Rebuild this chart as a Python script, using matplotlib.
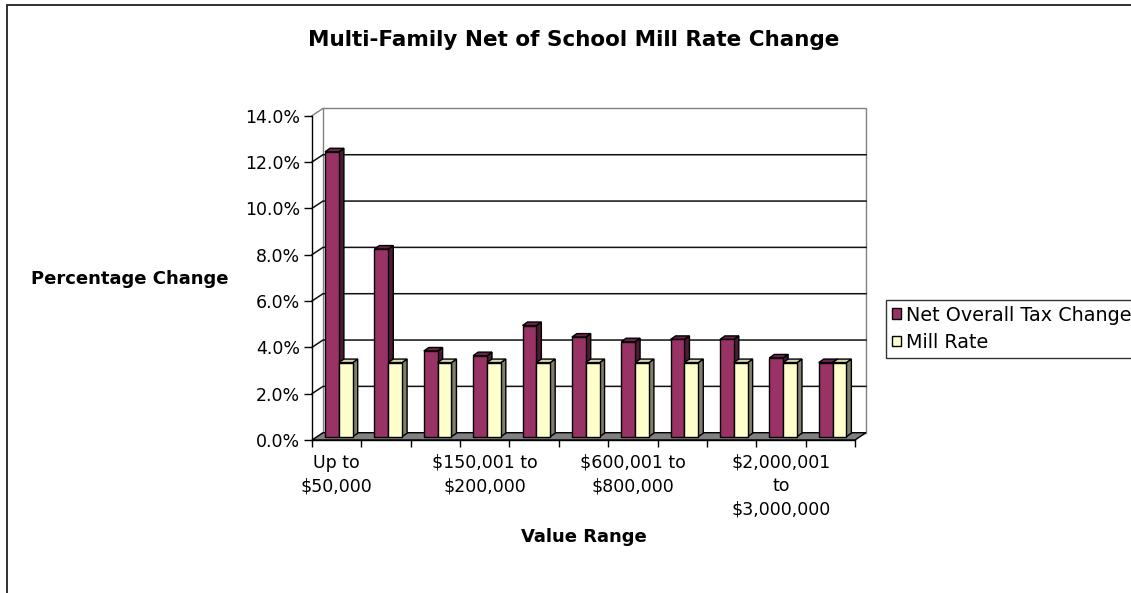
import textwrap
import matplotlib
matplotlib.use("Agg")
import matplotlib.pyplot as plt
from matplotlib.patches import Polygon, Rectangle

categories = ["Up to $50,000", "$50,001 to $100,000", "$100,001 to $150,000",
              "$150,001 to $200,000", "$200,001 to $400,000", "$400,001 to $600,000",
              "$600,001 to $800,000", "$800,001 to $1,000,000", "$1,000,001 to $2,000,000",
              "$2,000,001 to $3,000,000", "Over $3,000,000"]
net_change = [12.3, 8.1, 3.7, 3.5, 4.8, 4.3, 4.1, 4.2, 4.2, 3.4, 3.2]
mill_rate = [3.2, 3.2, 3.2, 3.2, 3.2, 3.2, 3.2, 3.2, 3.2, 3.2, 3.2]
y_ticks = [0, 2, 4, 6, 8, 10, 12, 14]

plt.rcParams['font.family'] = 'DejaVu Sans'

W, H = 1131, 593
fig = plt.figure(figsize=(W / 100, H / 100), dpi=100)
ax = fig.add_axes([312 / W, 1 - 440 / H, 543 / W, 324.3 / H])
n = len(categories)
ymax = y_ticks[-1]
ax.set_xlim(0, n)
ax.set_ylim(0, ymax)
ax.patch.set_visible(False)

# pixel -> data unit factors, for the fake 3d depth
bb = ax.get_window_extent()
kx = n / bb.width
ky = ymax / bb.height
wdx, wdy = 11 * kx, 7.3 * ky      # back wall depth
fdy = 3.3 * ky                    # bars sit a little behind the front edge
bdx, bdy = 5 * kx, 3.5 * ky       # bar depth

# back wall
ax.add_patch(Rectangle((wdx, wdy), n, ymax, fc='white', ec='#808080', lw=1,
                       clip_on=False, zorder=0.5))
ax.plot([0, wdx], [ymax, ymax + wdy], color='#808080', lw=1, clip_on=False, zorder=0.6)

# gridlines on side wall and back wall
for v in y_ticks[1:-1]:
    ax.plot([0, wdx, n + wdx], [v, v + wdy, v + wdy], color='#111111', lw=1.1,
            clip_on=False, zorder=0.6)

# floor
ax.add_patch(Polygon([(0, 0), (n, 0), (n + wdx, wdy), (wdx, wdy)], closed=True,
                     fc='#808080', ec='black', lw=1, clip_on=False, zorder=0.7))

bar_w = 0.28
series = [
    (net_change, 0.265, '#993366', '#4d1a33', '#6e2449', 'Net Overall Tax Change'),
    (mill_rate, 0.545, '#FFFFCC', '#80806a', '#d6d6aa', 'Mill Rate'),
]
handles = []
for i in range(n):
    for vals, off, face, side, top, name in series:
        x0 = i + off
        y1 = vals[i] + fdy
        ax.add_patch(Polygon([(x0 + bar_w, fdy), (x0 + bar_w + bdx, fdy + bdy),
                              (x0 + bar_w + bdx, y1 + bdy), (x0 + bar_w, y1)],
                             closed=True, fc=side, ec='black', lw=1, zorder=2))
        ax.add_patch(Polygon([(x0, y1), (x0 + bdx, y1 + bdy),
                              (x0 + bar_w + bdx, y1 + bdy), (x0 + bar_w, y1)],
                             closed=True, fc=top, ec='black', lw=1, zorder=2))
        b = ax.bar(x0, vals[i], width=bar_w, bottom=fdy, align='edge', color=face,
                   edgecolor='black', lw=1, zorder=2, label=name if i == 0 else None)
        if i == 0:
            handles.append(b)

# axes lines and ticks
for s in ['top', 'right']:
    ax.spines[s].set_visible(False)
for s in ['left', 'bottom']:
    ax.spines[s].set_color('black')
    ax.spines[s].set_linewidth(1)
    ax.spines[s].set_zorder(3)

ax.set_yticks(y_ticks)
ax.set_yticklabels([f'{v:.1f}%' for v in y_ticks])
ax.tick_params(axis='y', length=5.8, width=1, pad=3, labelsize=12.5)

ax.set_xticks(range(n + 1))
ax.set_xticklabels([])
ax.tick_params(axis='x', which='major', length=4.7, width=1)
shown = list(range(0, n, 3))
ax.set_xticks([i + 0.5 for i in shown], minor=True)
ax.set_xticklabels([textwrap.fill(categories[i], 11) for i in shown], minor=True)
ax.tick_params(axis='x', which='minor', length=0, pad=10, labelsize=12.5)
for lbl in ax.get_xticklabels(minor=True):
    lbl.set_linespacing(1.38)

fig.text(574 / W, 1 - 40 / H, 'Multi-Family Net of School Mill Rate Change',
         ha='center', va='center', fontsize=15.5, fontweight='bold')
fig.text(130 / W, 1 - 279 / H, 'Percentage Change', ha='center', va='center',
         fontsize=13, fontweight='bold')
fig.text(584 / W, 1 - 537 / H, 'Value Range', ha='center', va='center',
         fontsize=13, fontweight='bold')

leg = fig.legend(handles=handles, labels=[s[5] for s in series], loc='upper left',
                 bbox_to_anchor=(886 / W, 1 - 300 / H), bbox_transform=fig.transFigure,
                 fontsize=13.8, frameon=True, fancybox=False, shadow=False,
                 handlelength=0.5, handleheight=0.5, handletextpad=0.25,
                 labelspacing=0.42, borderpad=0.3, borderaxespad=0)
leg.get_frame().set_edgecolor('black')
leg.get_frame().set_linewidth(1)

# chart border
fig.add_artist(Rectangle((7 / W, -0.1), 1.2, 1.1 - 5 / H, transform=fig.transFigure,
                         fill=False, ec='#202020', lw=1.3))

fig.savefig('out.png', dpi=100)
